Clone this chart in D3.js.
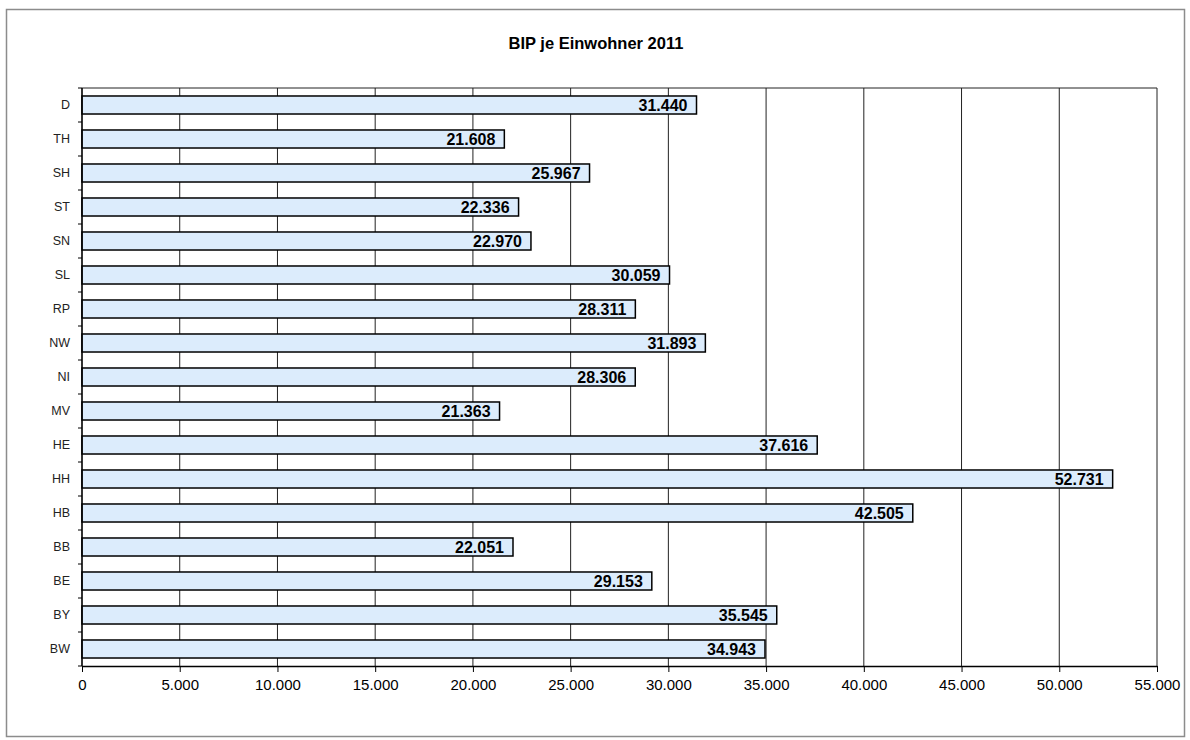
<!DOCTYPE html>
<html>
<head>
<meta charset="utf-8">
<script src="https://cdn.jsdelivr.net/npm/d3@7"></script>
<style>
  body { margin: 0; background: #fff; }
  text { font-family: "Liberation Sans", Arial, sans-serif; }
</style>
</head>
<body>
<div id="chart"></div>
<script>
// Data (top to bottom as drawn)
var laender = ["D", "TH", "SH", "ST", "SN", "SL", "RP", "NW", "NI", "MV", "HE", "HH", "HB", "BB", "BE", "BY", "BW"];
var bip = [31440, 21608, 25967, 22336, 22970, 30059, 28311, 31893, 28306, 21363, 37616, 52731, 42505, 22051, 29153, 35545, 34943];
var xTicks = [0, 5000, 10000, 15000, 20000, 25000, 30000, 35000, 40000, 45000, 50000, 55000];
var title = "BIP je Einwohner 2011";

var W = 1190, H = 740;
var margin = { top: 88, right: 33, bottom: 74, left: 82 };
var width = W - margin.left - margin.right;
var height = H - margin.top - margin.bottom;

var fmt = d3.formatLocale({ decimal: ",", thousands: ".", grouping: [3], currency: ["", " €"] }).format(",.0f");

var svg = d3.select("#chart").append("svg")
    .attr("width", W)
    .attr("height", H);

// Outer chart border
svg.append("rect")
    .attr("x", 6.5).attr("y", 9.5)
    .attr("width", 1178).attr("height", 727)
    .attr("fill", "#fff")
    .attr("stroke", "#8c8c8c")
    .attr("stroke-width", 1.5);

svg.append("text")
    .attr("x", 596)
    .attr("y", 49)
    .attr("text-anchor", "middle")
    .attr("font-size", "16.5px")
    .attr("font-weight", "bold")
    .text(title);

var g = svg.append("g")
    .attr("transform", "translate(" + margin.left + "," + margin.top + ")");

var x = d3.scaleLinear()
    .domain([0, 55000])
    .range([0, width]);

var y = d3.scaleBand()
    .domain(laender)
    .range([0, height])
    .paddingInner(0.47)
    .paddingOuter(0.235);

// Grid lines
g.selectAll(".grid")
    .data(xTicks)
    .enter().append("line")
    .attr("class", "grid")
    .attr("x1", function (d) { return x(d); })
    .attr("x2", function (d) { return x(d); })
    .attr("y1", 0)
    .attr("y2", height)
    .attr("stroke", "#222")
    .attr("stroke-width", 1);

// Plot area top border
g.append("line")
    .attr("x1", 0).attr("x2", width)
    .attr("y1", 0).attr("y2", 0)
    .attr("stroke", "#222");

// Bars
g.selectAll(".bar")
    .data(bip)
    .enter().append("rect")
    .attr("class", "bar")
    .attr("x", x(0))
    .attr("y", function (d, i) { return y(laender[i]); })
    .attr("width", function (d) { return x(d) - x(0); })
    .attr("height", y.bandwidth())
    .attr("fill", "#dcecfc")
    .attr("stroke", "#000")
    .attr("stroke-width", 1.5);

// Value labels
g.selectAll(".val")
    .data(bip)
    .enter().append("text")
    .attr("class", "val")
    .attr("x", function (d) { return x(d) - 9; })
    .attr("y", function (d, i) { return y(laender[i]) + y.bandwidth() / 2; })
    .attr("dy", "0.4em")
    .attr("text-anchor", "end")
    .attr("font-size", "16px")
    .attr("font-weight", "bold")
    .attr("fill", "#000")
    .text(function (d) { return fmt(d); });

// X axis
var xAxis = g.append("g")
    .attr("transform", "translate(0," + height + ")")
    .call(d3.axisBottom(x).tickValues(xTicks).tickFormat(fmt).tickSize(6).tickSizeOuter(0).tickPadding(7));
xAxis.select(".domain").attr("stroke", "#000").attr("stroke-width", 1.3);
xAxis.selectAll("line").attr("stroke", "#000");
xAxis.selectAll("text").attr("font-size", "15px").attr("fill", "#000")
    .style("font-family", "'Liberation Sans', Arial, sans-serif");

// Y axis: ticks between categories
var yAxis = g.append("g");
yAxis.append("line")
    .attr("x1", 0).attr("x2", 0)
    .attr("y1", 0).attr("y2", height)
    .attr("stroke", "#000").attr("stroke-width", 1.3);
yAxis.selectAll(".ytick")
    .data(laender.concat(["_end"]))
    .enter().append("line")
    .attr("x1", -4).attr("x2", 0)
    .attr("y1", function (d, i) { return i * y.step(); })
    .attr("y2", function (d, i) { return i * y.step(); })
    .attr("stroke", "#000");
yAxis.selectAll(".ylab")
    .data(laender)
    .enter().append("text")
    .attr("x", -12)
    .attr("y", function (d) { return y(d) + y.bandwidth() / 2; })
    .attr("dy", "0.35em")
    .attr("text-anchor", "end")
    .attr("font-size", "12.5px")
    .attr("fill", "#222")
    .text(function (d) { return d; });
</script>
</body>
</html>
